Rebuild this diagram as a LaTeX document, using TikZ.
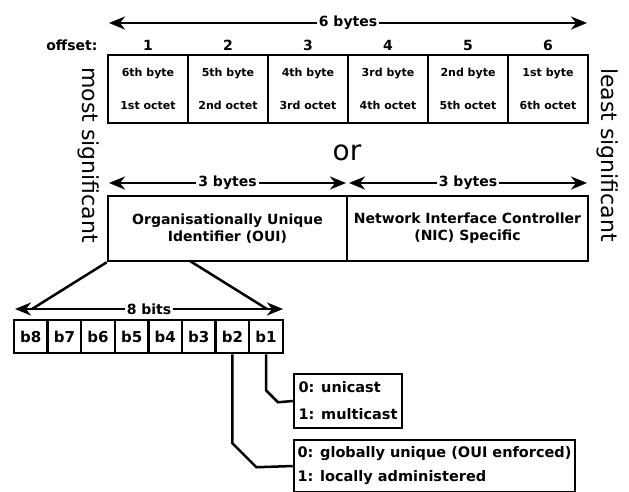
\documentclass[tikz,border=0pt]{standalone}
\usepackage{fontspec}
\setmainfont{DejaVu Sans}
\usetikzlibrary{arrows.meta}

\begin{document}
\begin{tikzpicture}[x=1pt, y=-1pt, line width=2.5pt]
\tikzset{
  cell/.style={draw, minimum width=80pt, minimum height=68pt, inner sep=0pt, align=center, font=\bfseries\fontsize{11}{13}\selectfont},
  half/.style={draw, minimum height=65pt, inner sep=0pt, align=center, font=\bfseries\fontsize{14}{17}\selectfont},
  bit/.style={draw, minimum width=33.6pt, minimum height=33pt, inner sep=0pt, font=\bfseries\fontsize{15}{17}\selectfont},
  note/.style={draw, inner xsep=2pt, inner ysep=4pt, align=left, font=\bfseries\fontsize{14.5}{17}\selectfont},
  dim/.style={{Stealth[length=16pt,width=13pt,inset=5pt]}-{Stealth[length=16pt,width=13pt,inset=5pt]}},
  num/.style={font=\bfseries\fontsize{14}{16}\selectfont},
  lab/.style={num, fill=white, inner sep=2pt},
  big/.style={font=\fontsize{22}{24}\selectfont, rotate=-90}}

\useasboundingbox (0,0) rectangle (629,491);
\clip (0,0) rectangle (629,491);

% ---------------- six bytes, one cell each ----------------
\node[num, anchor=east] (offset) at (102,45) {offset:};
\foreach \i/\byte/\oct in {1/6th/1st, 2/5th/2nd, 3/4th/3rd, 4/3rd/4th, 5/2nd/5th, 6/1st/6th} {
  \node[cell] (c\i) at ({148+80*(\i-1)},89) {\byte{} byte\\[20pt]\oct{} octet};
  \node[num] (o\i) at ({148+80*(\i-1)},45) {\i};
}
\coordinate (sixl) at (109,23);
\coordinate (sixr) at (587,23);
\draw[dim] (sixl) -- (sixr) node[midway, lab] {6 bytes};

\node[big] (most) at (89,155) {most significant};
\node[big] (least) at (608,155) {least significant};
\node[font=\fontsize{28}{30}\selectfont] (or) at (347,153) {or};

% ---------------- OUI / NIC split ----------------
\node[half, minimum width=239pt] (oui) at (227.5,228.5) {Organisationally Unique\\Identifier (OUI)};
\node[half, minimum width=241pt] (nic) at (467.5,228.5) {Network Interface Controller\\(NIC) Specific};
\coordinate (ouil) at (109,183);
\coordinate (ouir) at (346,183);
\coordinate (nicl) at (349,183);
\coordinate (nicr) at (587,183);
\draw[dim] (ouil) -- (ouir) node[midway, lab] {3 bytes};
\draw[dim] (nicl) -- (nicr) node[midway, lab] {3 bytes};

% ---------------- bits of the first octet ----------------
\foreach \i in {8,...,1}
  \node[bit] (b\i) at ({30.8+33.6*(8-\i)},336.5) {b\i};
\coordinate (bitl) at (15,309);
\coordinate (bitr) at (283,309);
\draw[dim] (bitl) -- (bitr) node[midway, lab] {8 bits};
\coordinate (ouimid) at (190,261);
\coordinate (fanl) at (32,309);
\coordinate (fanr) at (267,309);
\draw (oui.south west) -- (fanl);
\draw (ouimid) -- (fanr);

% ---------------- meaning of b1 and b2 ----------------
\node[note, minimum width=108pt, minimum height=54pt] (cast) at (348,401) {0: unicast\\[10pt]1: multicast};
\node[note, minimum width=281pt, minimum height=52pt] (admin) at (434.5,466) {0: globally unique (OUI enforced)\\[7pt]1: locally administered};
\draw (b1.south) -- ++(0,36) -- ++(12,12) -- (cast.west);
\draw (b2.south) -- ++(0,89) -- ++(24,24) -- (admin.west);
\end{tikzpicture}
\end{document}
